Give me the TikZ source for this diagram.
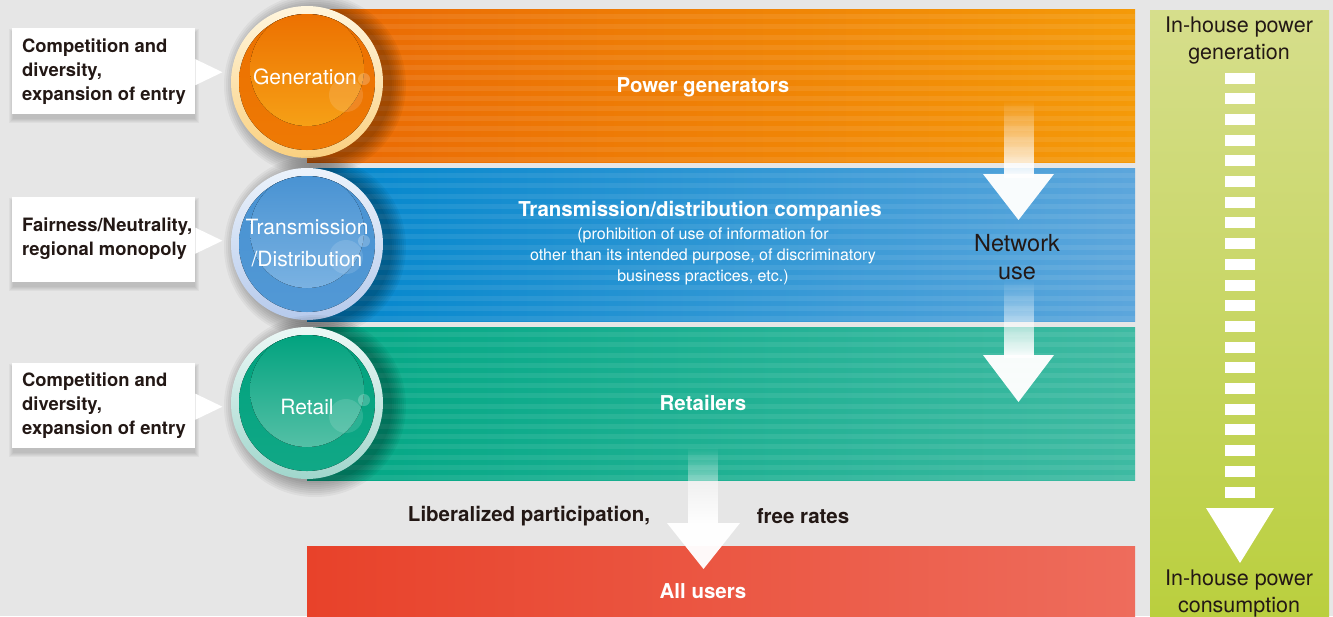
\documentclass[tikz,border=0pt]{standalone}
\usepackage{fontspec}
\setmainfont{TeX Gyre Heros}
\usetikzlibrary{fadings,calc}

% palette
\definecolor{bg}{RGB}{230,230,230}
\definecolor{ink}{RGB}{35,24,21}
\definecolor{orangeL}{RGB}{234,104,4}
\definecolor{orangeR}{RGB}{244,154,8}
\definecolor{blueL}{RGB}{0,134,204}
\definecolor{blueR}{RGB}{92,166,220}
\definecolor{greenL}{RGB}{0,167,132}
\definecolor{greenR}{RGB}{62,186,162}
\definecolor{redL}{RGB}{232,66,42}
\definecolor{redR}{RGB}{238,108,92}
\definecolor{colTop}{RGB}{214,222,140}
\definecolor{colBot}{RGB}{186,207,62}
% ball colours
\definecolor{genRingT}{RGB}{255,246,222}
\definecolor{genRingB}{RGB}{250,208,128}
\definecolor{genDark}{RGB}{236,112,0}
\definecolor{genLight}{RGB}{246,160,22}
\definecolor{trRingT}{RGB}{236,243,251}
\definecolor{trRingB}{RGB}{182,202,236}
\definecolor{trDark}{RGB}{72,146,210}
\definecolor{trLight}{RGB}{122,178,226}
\definecolor{rtRingT}{RGB}{236,248,246}
\definecolor{rtRingB}{RGB}{160,214,204}
\definecolor{rtDark}{RGB}{0,162,126}
\definecolor{rtLight}{RGB}{84,192,166}

% arrow shafts fade in from the top
\tikzfading[name=shaftfade, top color=transparent!100, bottom color=transparent!0]

\tikzset{
  calloutbox/.style={fill=white, anchor=north west, minimum width=183pt,
    minimum height=86pt, inner sep=0pt},
  callouttext/.style={anchor=west, inner sep=0pt, align=left, text=ink,
    font=\bfseries\fontsize{18.4}{24}\selectfont},
  balltext/.style={text=white, align=center, font=\fontsize{21}{32}\selectfont},
  bandtitle/.style={text=white, align=center, font=\bfseries\fontsize{20.5}{24}\selectfont},
  bandnote/.style={text=white, align=center, font=\fontsize{16}{21}\selectfont},
  darklabel/.style={text=ink, align=center, font=\bfseries\fontsize{20.5}{24}\selectfont},
  flowlabel/.style={text=ink, align=center, font=\fontsize{23.5}{28}\selectfont},
  collabel/.style={text=ink, align=center, font=\fontsize{21.5}{27}\selectfont},
  whitehead/.style={fill=white, opacity=0.97},
  shaft/.style={fill=white, path fading=shaftfade},
}

% striped band: #1 top, #2 bottom, #3 left colour, #4 right colour, #5 left x
\newcommand\stripeband[5]{%
  \fill[left color=#3, right color=#4] (#5,#1) rectangle (1135,#2);
  \foreach \k in {0,...,14}
    \fill[white, opacity=0.08] (#5,{#1+\k*10.2+5.1}) rectangle (1135,{#1+\k*10.2+10.2});
}

% glossy ball: #1 name, #2 x, #3 y, #4 ring top, #5 ring bottom, #6 core dark, #7 core light
\newcommand\glossball[7]{%
  \foreach \r in {77,79,...,91}
    \fill[black, opacity=0.045] (#2+8,#3+3) circle (\r pt);
  \node[circle, minimum size=152pt, inner sep=0pt, top color=#4, bottom color=#5] (#1) at (#2,#3) {};
  \fill[top color=#6, bottom color=#6!80!#7] (#2,#3) circle (68pt);
  \begin{scope}
    \clip (#2,#3) circle (68pt);
    \fill[top color=#6, bottom color=#7] (#2,#3-13) circle (57pt);
  \end{scope}
  \fill[white, opacity=0.13] (#2+39,#3+13) circle (17pt);
  \fill[white, opacity=0.22] (#2+57,#3-3) circle (6pt);
}

% callout shadow, soft
\newcommand\calloutshadow[2]{%
  \foreach \e in {1,...,5}
    \fill[black, opacity=0.035] (12-\e+2,#1+6-\e) rectangle (195+\e-1,#2+4+\e);
}

\begin{document}
\begin{tikzpicture}[x=1pt, y=-1pt]
  \useasboundingbox (0,0) rectangle (1333,616);
  \fill[bg] (0,0) rectangle (1333,616);

  % horizontal bands
  \stripeband{9}{162}{orangeL}{orangeR}{307}
  \stripeband{168}{321}{blueL}{blueR}{307}
  \stripeband{327}{480}{greenL}{greenR}{307}
  \fill[left color=redL, right color=redR] (307,546) rectangle (1135,616);

  % in-house column
  \fill[top color=colTop, bottom color=colBot] (1150,10) rectangle (1329,616);

  % callouts
  \calloutshadow{28}{114}
  \calloutshadow{197}{282}
  \calloutshadow{363}{448}
  \node[calloutbox] (c1) at (12,28) {};
  \node[calloutbox, minimum height=85pt] (c2) at (12,197) {};
  \node[calloutbox, minimum height=85pt] (c3) at (12,363) {};
  \foreach \c in {c1,c2,c3}
    \fill[white] ($(\c.east)+(0,-12)$) -- ($(\c.east)+(27,1)$) -- ($(\c.east)+(0,14)$) -- cycle;
  \node[callouttext] (t1) at ($(c1.west)+(10,0)$) {Competition and\\diversity,\\expansion of entry};
  \node[callouttext] (t2) at ($(c2.west)+(10,-1)$) {Fairness/Neutrality,\\regional monopoly};
  \node[callouttext] (t3) at ($(c3.west)+(10,0)$) {Competition and\\diversity,\\expansion of entry};

  % balls
  \glossball{bgen}{307}{82}{genRingT}{genRingB}{genDark}{genLight}
  \glossball{btr}{307}{244}{trRingT}{trRingB}{trDark}{trLight}
  \glossball{brt}{307}{403}{rtRingT}{rtRingB}{rtDark}{rtLight}
  \node[balltext] (lgen) at (305,77) {Generation};
  \node[balltext] (ltr) at (307,243) {Transmission\\/Distribution};
  \node[balltext] (lrt) at (307,407) {Retail};

  % band texts
  \node[bandtitle] (tgen) at (703,87) {Power generators};
  \node[bandtitle] (ttr) at (700,211) {Transmission/distribution companies};
  \node[bandnote, anchor=north] (ntr) at (703,224)
    {(prohibition of use of information for\\other than its intended purpose, of discriminatory\\business practices, etc.)};
  \node[bandtitle] (trt) at (703,403) {Retailers};
  \node[bandtitle] (tall) at (703,591) {All users};

  % network use arrows
  \fill[shaft] (1004,100) rectangle (1034,178);
  \fill[whitehead] (983,174) -- (1054,174) -- (1018.5,220) -- cycle;
  \node[flowlabel] (net) at (1017,257) {Network\\use};
  \fill[shaft] (1004,280) rectangle (1034,358);
  \fill[whitehead] (983,355) -- (1054,355) -- (1018.5,402) -- cycle;

  % retail to users arrow
  \fill[shaft] (688,447) rectangle (718,526);
  \fill[whitehead] (667,523) -- (740,523) -- (703.5,569) -- cycle;
  \node[darklabel] (lib) at (529,516) {Liberalized participation,};
  \node[darklabel] (free) at (803,516) {free rates};

  % in-house flow
  \node[collabel] (ihg) at (1239,41) {In-house power\\generation};
  \node[collabel] (ihc) at (1239,593) {In-house power\\consumption};
  \foreach \k in {0,...,20}
    \fill[white] (1225,{72.5+\k*20.7}) rectangle (1255,{83.5+\k*20.7});
  \fill[white] (1206,508) -- (1274,508) -- (1240,563) -- cycle;
\end{tikzpicture}
\end{document}
